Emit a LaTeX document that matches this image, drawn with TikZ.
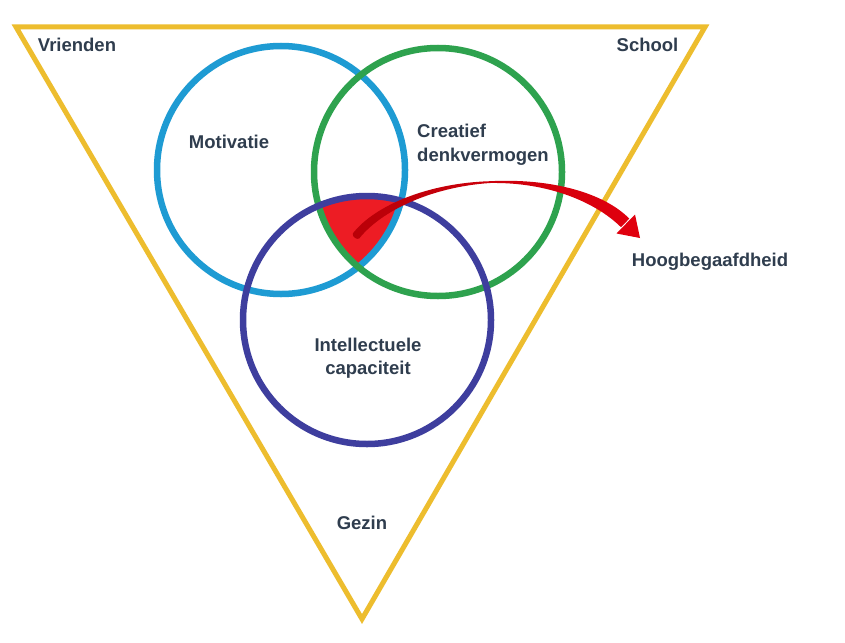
\documentclass[tikz,border=0pt]{standalone}
\usepackage{fontspec}
\setmainfont{Liberation Sans}
\definecolor{tri}{HTML}{EDBD2E}
\definecolor{cblue}{HTML}{1E9BD3}
\definecolor{cgreen}{HTML}{2EA24E}
\definecolor{cpurple}{HTML}{3E3E9E}
\definecolor{cred}{HTML}{ED1C24}
\definecolor{adark}{HTML}{B80008}
\definecolor{alight}{HTML}{E0000E}
\definecolor{txt}{HTML}{2F3D4E}
\begin{document}
\begin{tikzpicture}[x=1pt,y=-1pt,
  lbl/.style={inner sep=0pt,text=txt,font=\fontsize{18.5}{23.5}\selectfont\bfseries},
  ring/.style={line width=6.5pt}]
\useasboundingbox (0,0) rectangle (845,642);
\fill[white] (0,0) rectangle (845,642);
% triangle
\coordinate (tl) at (16,27);
\coordinate (tr) at (705,27);
\coordinate (ap) at (362,619);
\draw[tri,line width=5pt,line join=miter] (tl) -- (tr) -- (ap) -- cycle;
% circle centres
\coordinate (cb) at (281,170);
\coordinate (cg) at (438,172);
\coordinate (cp) at (367,320);
% red intersection
\begin{scope}
  \clip (cb) circle (124);
  \clip (cg) circle (124);
  \fill[cred] (cp) circle (124);
\end{scope}
% circles
\draw[ring,cblue] (cb) circle (124);
\draw[ring,cgreen] (cg) circle (124);
\draw[ring,cpurple] (cp) circle (124);
% curved tapered arrow
\shade[left color=adark,right color=alight]
  (352.8,233.5) .. controls (375,205) and (429,183) .. (490,181.2)
  .. controls (553,178) and (604.5,193.5) .. (629.3,218.6)
  -- (621,227.2)
  .. controls (596,202.5) and (549,182) .. (490,183)
  .. controls (431,187) and (381,211) .. (359.2,238.5)
  .. controls (357,240) and (352,237) .. cycle;
\coordinate (ahtip) at (640,238);
\coordinate (ahl) at (635,214.5);
\coordinate (ahr) at (616.5,233.5);
\fill[alight] (ahl) -- (ahtip) -- (ahr) -- cycle;
% labels
\node[lbl] (vr) at (77,45) {Vrienden};
\node[lbl] (sc) at (647.5,45) {School};
\node[lbl] (mo) at (229,142) {Motivatie};
\node[lbl,anchor=west,align=left] (cr) at (417,145) {Creatief\\denkvermogen};
\node[lbl,align=center] (in) at (368,358) {Intellectuele\\capaciteit};
\node[lbl] (ge) at (362,523) {Gezin};
\node[lbl] (ho) at (710,262) {Hoogbegaafdheid};
\end{tikzpicture}
\end{document}
